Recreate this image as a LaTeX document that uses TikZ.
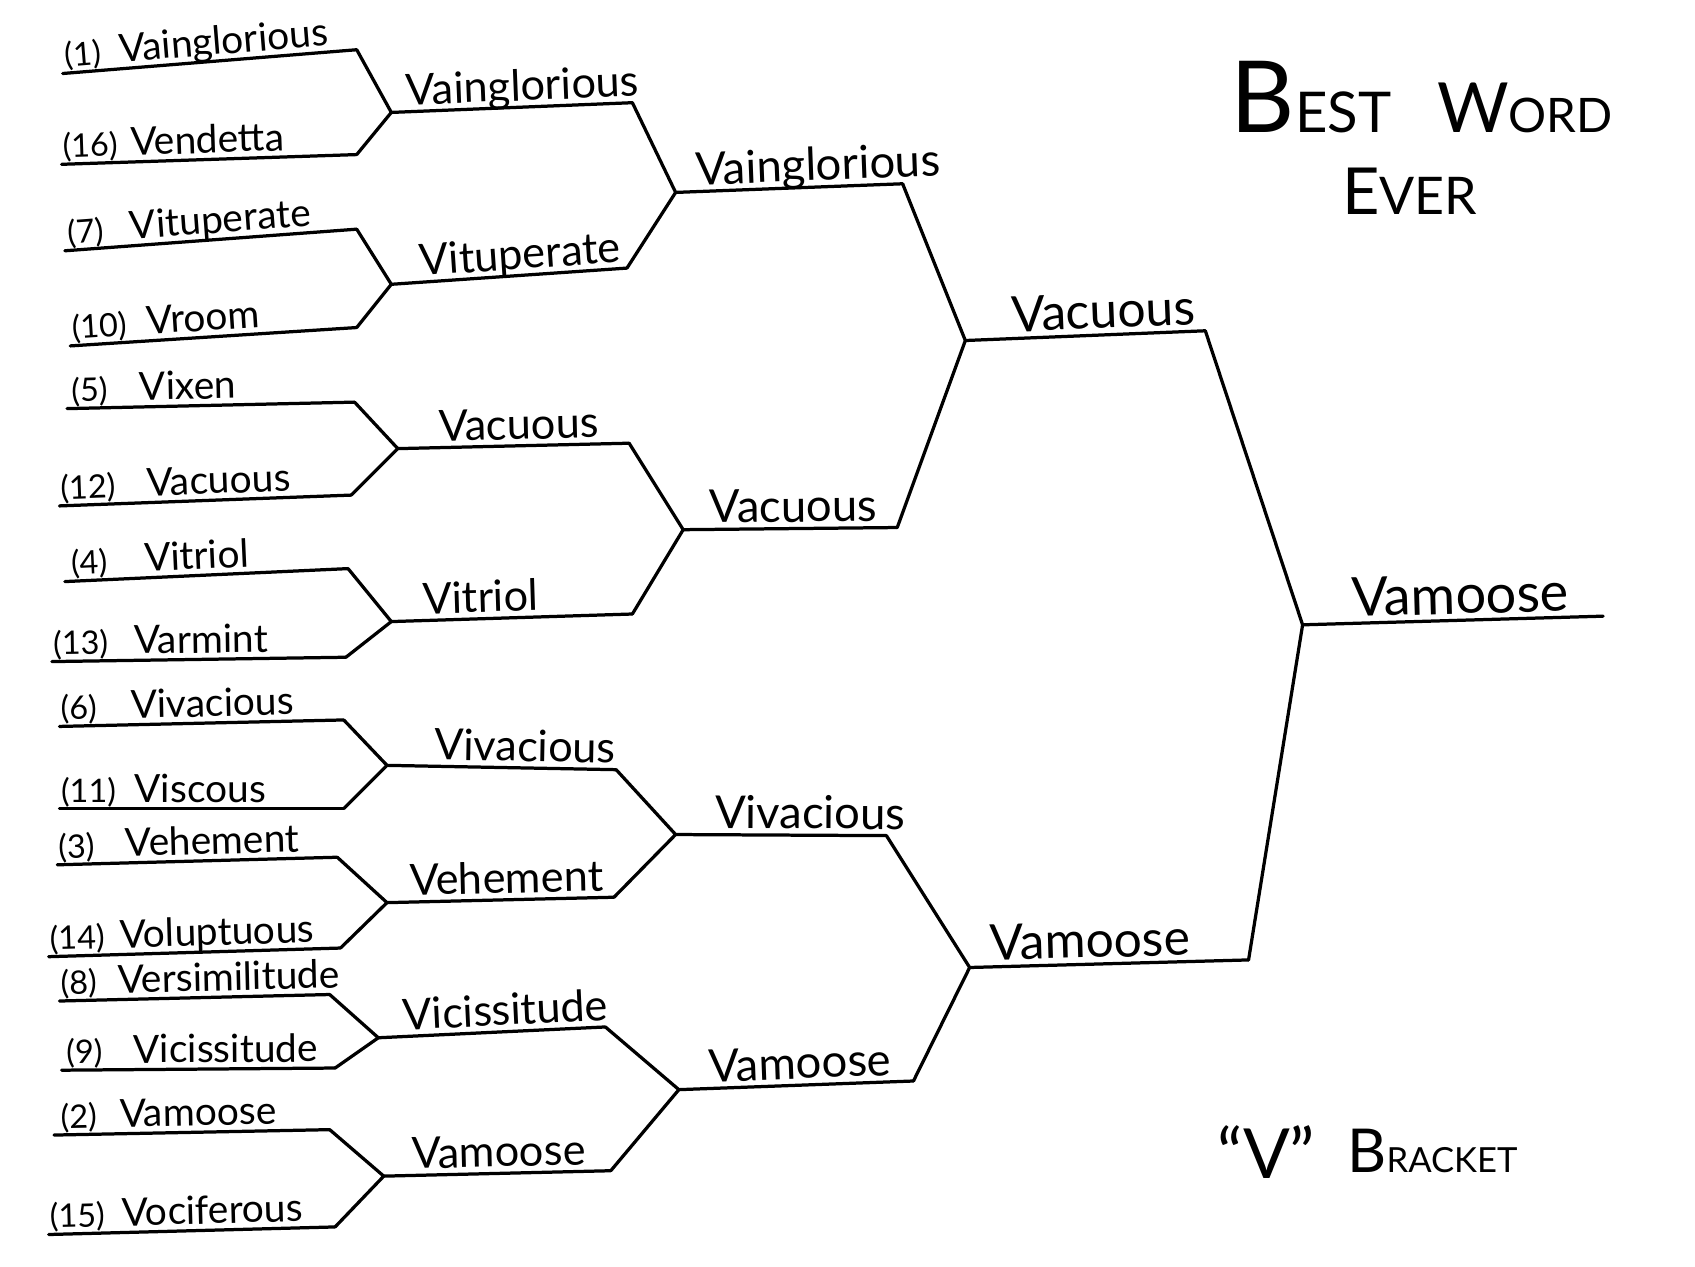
\documentclass[tikz,border=0pt]{standalone}
\usepackage{fontspec}
\setmainfont{Lato}
\usetikzlibrary{positioning}
\newcommand\fs[1]{\fontsize{#1}{#1}\selectfont}

\begin{document}
\begin{tikzpicture}[
  x=0.5pt, y=-0.5pt,
  line width=1.5pt, line cap=round, line join=round,
  seed/.style={sloped, anchor=base west, inner sep=0pt, yshift=3pt, font=\fs{15}},
  word/.style={seed, font=\fs{18}},
  word2/.style={word, font=\fs{20}},
  word3/.style={word, font=\fs{21}},
  word4/.style={word, font=\fs{23}},
  word5/.style={word, font=\fs{25}},
  label/.style={anchor=base west, inner sep=0pt}
]
  \fill[white] (0,0) rectangle (1568,1172);
  \useasboundingbox (0,0) rectangle (1568,1172);

  % first round
  \foreach \s/\w/\lx/\ly/\rx/\ry/\sx/\wx in {
    1/Vainglorious/58/68/330/46/60/110,
    16/Vendetta/57/152/330/143/57/120,
    7/Vituperate/60/232/330/212/62/120,
    10/Vroom/65/320/330/303/66/135,
    5/Vixen/62/378/328/372/65/128,
    12/Vacuous/55/468/325/458/55/135,
    4/Vitriol/60/538/322/526/65/133,
    13/Varmint/48/612/320/608/48/123,
    6/Vivacious/55/672/318/666/55/120,
    11/Viscous/55/748/318/748/55/123,
    3/Vehement/53/800/312/793/53/115,
    14/Voluptuous/45/885/315/877/45/110,
    8/Versimilitude/55/926/305/920/55/108,
    9/Vicissitude/57/990/310/988/60/122,
    2/Vamoose/50/1050/305/1045/55/110,
    15/Vociferous/45/1142/310/1135/45/112}{
    \coordinate (a\s) at (\lx,\ly);
    \coordinate (b\s) at (\rx,\ry);
    \pgfmathsetmacro\ps{(\sx-\lx)/(\rx-\lx)}
    \pgfmathsetmacro\pw{(\wx-\lx)/(\rx-\lx)}
    \draw (a\s) -- (b\s)
      node[seed, pos=\ps] (n\s) {(\s)}
      node[word, pos=\pw] (w\s) {\w};
  }

  % second round
  \foreach \i/\t/\u/\w/\jx/\jy/\rx/\ry/\wx in {
    1/1/16/Vainglorious/362/104/585/95/375,
    2/7/10/Vituperate/362/263/580/248/388,
    3/5/12/Vacuous/368/415/582/410/405,
    4/4/13/Vitriol/362/575/585/568/390,
    5/6/11/Vivacious/358/708/570/712/400,
    6/3/14/Vehement/358/835/568/830/378,
    7/8/9/Vicissitude/350/960/560/950/372,
    8/2/15/Vamoose/355/1088/565/1083/380}{
    \coordinate (p\i) at (\jx,\jy);
    \coordinate (q\i) at (\rx,\ry);
    \pgfmathsetmacro\pw{(\wx-\jx)/(\rx-\jx)}
    \draw (b\t) -- (p\i) -- (b\u);
    \draw (p\i) -- (q\i) node[word2, pos=\pw] (v\i) {\w};
  }

  % third round
  \foreach \i/\t/\u/\w/\jx/\jy/\rx/\ry/\wx in {
    1/1/2/Vainglorious/625/178/835/170/643,
    2/3/4/Vacuous/632/490/830/488/655,
    3/5/6/Vivacious/625/772/820/773/660,
    4/7/8/Vamoose/628/1008/845/1000/655}{
    \coordinate (c\i) at (\jx,\jy);
    \coordinate (d\i) at (\rx,\ry);
    \pgfmathsetmacro\pw{(\wx-\jx)/(\rx-\jx)}
    \draw (q\t) -- (c\i) -- (q\u);
    \draw (c\i) -- (d\i) node[word3, pos=\pw] (x\i) {\w};
  }

  % semis
  \foreach \i/\t/\u/\w/\jx/\jy/\rx/\ry/\wx in {
    1/1/2/Vacuous/893/315/1115/306/935,
    2/3/4/Vamoose/897/895/1155/888/915}{
    \coordinate (e\i) at (\jx,\jy);
    \coordinate (g\i) at (\rx,\ry);
    \pgfmathsetmacro\pw{(\wx-\jx)/(\rx-\jx)}
    \draw (d\t) -- (e\i) -- (d\u);
    \draw (e\i) -- (g\i) node[word4, pos=\pw] (y\i) {\w};
  }

  % winner
  \coordinate (f) at (1205,578);
  \coordinate (fr) at (1483,570);
  \draw (g1) -- (f) -- (g2);
  \draw (f) -- (fr) node[word5, pos=0.16] (champ) {Vamoose};

  \node[label] (best) at (1137,123) {\fs{46}B\fs{26}EST};
  \node[label] (wrd) at (1328,123) {\fs{32}W\fs{22}ORD};
  \node[label] (ever) at (1240,198) {\fs{30}E\fs{24}VER};
  \node[label] (vee) at (1125,1090) {\fs{32}``V''};
  \node[label] (brk) at (1245,1085) {\fs{28}B\fs{16}RACKET};
\end{tikzpicture}
\end{document}
